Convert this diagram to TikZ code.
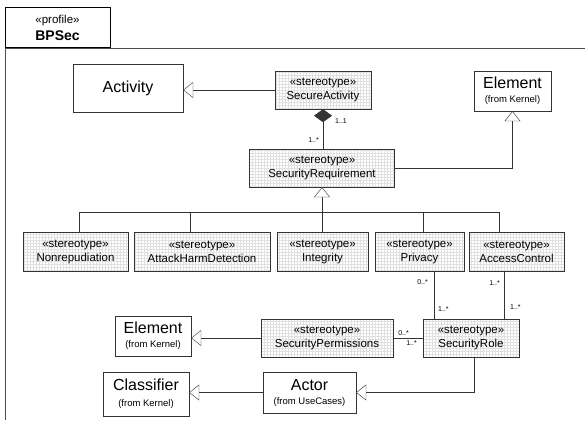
\documentclass[tikz,border=0pt]{standalone}
\usepackage{fontspec}
\setmainfont{Liberation Sans}
\usetikzlibrary{arrows.meta, patterns}

\begin{document}
\begin{tikzpicture}[
        x=1pt, y=-1pt, % 1pt = 1px, y grows downwards
        stereo/.style={draw=black!80, preaction={fill=white}, pattern=grid, pattern color=black!12,
            align=center, inner sep=0pt, minimum height=38pt, font=\fontsize{11.5}{14}\selectfont}, % stereotype boxes
        metacls/.style={draw=black!80, fill=white, align=center, inner sep=0pt, font=\fontsize{16}{14}\selectfont},
        gen/.style={draw=black!80, -{Triangle[open, length=10pt, width=16pt, fill=white]}}, % generalization
        comp/.style={draw=black!80, {Diamond[length=13pt, width=18pt]}-}, % composition
        assoc/.style={draw=black!80},
        mult/.style={font=\fontsize{7}{8}\selectfont, inner sep=1pt},
    ]
    \useasboundingbox (0,0) rectangle (585,420);

    % package frame
    \draw[black!70] (5,420) -- (5,48) -- (585,48);
    \node[draw, line width=1pt, minimum width=105pt, minimum height=40pt, inner sep=0pt, align=center,
        font=\fontsize{11.5}{17}\selectfont] (tab) at (57.5,28) {«profile»\\{\fontsize{14}{17}\selectfont\bfseries BPSec}};

    \node[metacls, minimum width=110pt, minimum height=48pt] (activity) at (128,88) {Activity};
    \node[stereo, minimum width=96pt] (secact) at (323,90) {«stereotype»\\SecureActivity};
    \node[metacls, minimum width=77pt, minimum height=40pt] (elemtop) at (512.5,91)
        {Element\\{\fontsize{9.5}{11}\selectfont(from Kernel)}};
    \node[stereo, minimum width=145pt] (secreq) at (322,168) {«stereotype»\\SecurityRequirement};

    \node[stereo, minimum width=105pt, minimum height=39pt] (nonrep) at (75.5,251.5) {«stereotype»\\Nonrepudiation};
    \node[stereo, minimum width=136pt, minimum height=39pt] (attack) at (202,251.5) {«stereotype»\\AttackHarmDetection};
    \node[stereo, minimum width=91pt, minimum height=39pt] (integ) at (322.5,251.5) {«stereotype»\\Integrity};
    \node[stereo, minimum width=89pt, minimum height=39pt] (privacy) at (419.5,251.5) {«stereotype»\\Privacy};
    \node[stereo, minimum width=95pt, minimum height=39pt] (access) at (516.5,251.5) {«stereotype»\\AccessControl};

    \node[stereo, minimum width=132pt] (secperm) at (327,338) {«stereotype»\\SecurityPermissions};
    \node[stereo, minimum width=96pt] (secrole) at (471,338) {«stereotype»\\SecurityRole};
    \node[metacls, minimum width=76pt, minimum height=40pt] (elemlow) at (153,336)
        {Element\\{\fontsize{9.5}{11}\selectfont(from Kernel)}};
    \node[metacls, minimum width=86pt, minimum height=44pt, font=\fontsize{16}{16}\selectfont] (classifier) at (146,394)
        {Classifier\\{\fontsize{9.5}{11}\selectfont(from Kernel)}};
    \node[metacls, minimum width=93pt, minimum height=41pt] (actor) at (309.5,392.5)
        {Actor\\{\fontsize{9.5}{11}\selectfont(from UseCases)}};

    % connectors
    \draw[gen] (secact.west) -- (secact.west -| activity.east);
    \draw[comp] (secact.south) -- (secact.south |- secreq.north)
        node[mult, pos=0.3, right=11pt] {1..1}
        node[mult, pos=0.78, left=3pt] {1..*};
    \draw[gen] (secreq.east) -| (elemtop.south);

    \coordinate (bus) at (322,212);
    \draw[gen] (bus) -- (secreq.south);
    \foreach \n/\dx in {nonrep/3.5, attack/-12, integ/-0.5, privacy/3.5, access/-17.5}
        \draw[assoc] ([xshift=\dx pt]\n.north) |- (bus);

    \draw[assoc] ([xshift=14.5pt]privacy.south) coordinate (pv) -- (pv |- secrole.north)
        node[mult, pos=0.23, left=5pt] {0..*}
        node[mult, pos=0.79, right=3pt] {1..*};
    \draw[assoc] ([xshift=-12.5pt]access.south) coordinate (ac) -- (ac |- secrole.north)
        node[mult, pos=0.25, left=3pt] {1..*}
        node[mult, pos=0.75, right=5pt] {1..*};
    \draw[assoc] (secperm.east) -- (secrole.west)
        node[mult, pos=0.35, above=1pt] {0..*}
        node[mult, pos=0.62, below=1pt] {1..*};
    \draw[gen] (secperm.west) -- (secperm.west -| elemlow.east);
    \draw[gen] (actor.west) -- (actor.west -| classifier.east);
    \draw[gen] ([xshift=3pt]secrole.south) |- (actor.east);

\end{tikzpicture}
\end{document}
